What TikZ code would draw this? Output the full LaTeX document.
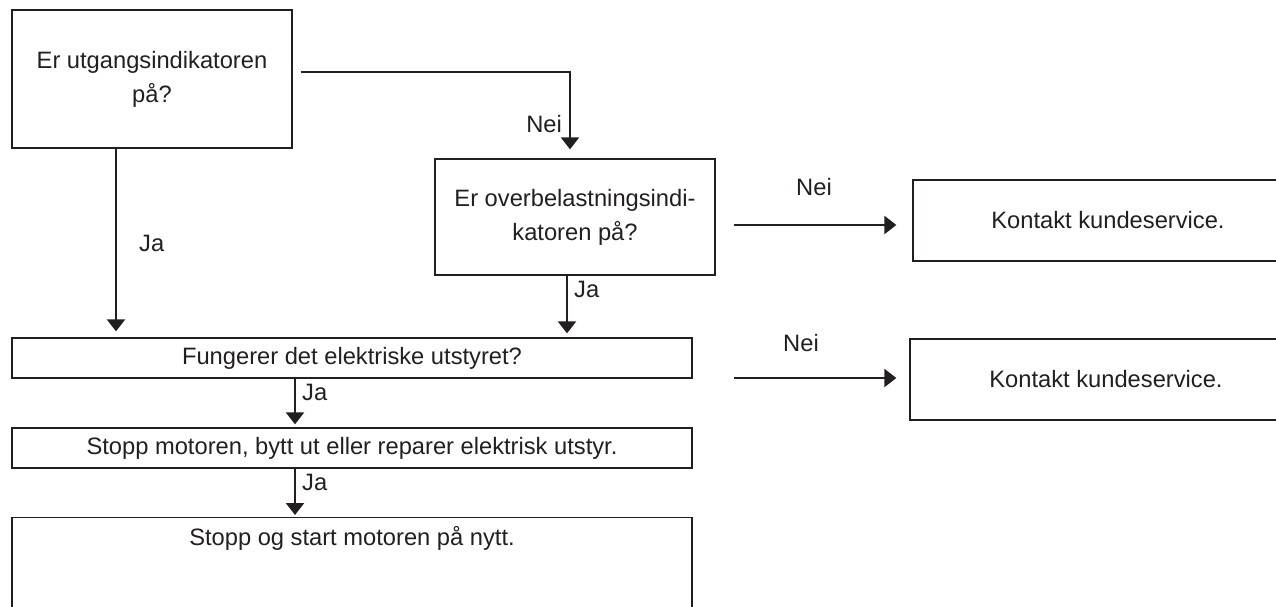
\documentclass[tikz,border=0pt]{standalone}
\usepackage{fontspec}
\setmainfont{Liberation Sans}
\usetikzlibrary{arrows.meta}
\definecolor{ink}{HTML}{231F20}
\begin{document}
\begin{tikzpicture}[x=1pt,y=-1pt,
  box/.style={draw=ink, line width=1.3pt, inner sep=0pt, align=center, text=ink,
    font=\fontsize{23.7}{34}\selectfont},
  arr/.style={draw=ink, line width=2.3pt, -{Triangle[width=18pt,length=12pt]}},
  lbl/.style={text=ink, font=\fontsize{23.7}{34}\selectfont, inner sep=0pt}]
\useasboundingbox (0,0) rectangle (1276,606);
\fill[white] (0,0) rectangle (1276,606);
\clip (0,0) rectangle (1276,606);
% boxes
\node[box, minimum width=280pt, minimum height=138pt] (A) at (152,79) {Er utgangsindikatoren\\på?};
\node[box, minimum width=280pt, minimum height=116pt] (B) at (575,217) {Er overbelastningsindi-\\katoren på?};
\node[box, minimum width=390pt, minimum height=81pt] (C1) at (1108,220.5) {Kontakt kundeservice.};
\node[box, minimum width=392pt, minimum height=81pt] (C2) at (1106,379.5) {Kontakt kundeservice.};
\node[box, minimum width=680pt, minimum height=40pt] (D) at (352,358) {Fungerer det elektriske utstyret?};
\node[box, minimum width=680pt, minimum height=40pt] (E) at (352,448) {Stopp motoren, bytt ut eller reparer elektrisk utstyr.};
\node[box, minimum width=680pt, minimum height=140pt, anchor=north] (F) at (352,517) {};
\node[lbl] (Ft) at (352,538) {Stopp og start motoren på nytt.};
% connectors
\draw[arr, shorten <=8pt, shorten >=9pt] ([yshift=7pt]A.east) -| ([xshift=-5pt]B.north)
  node[lbl, pos=0.8, anchor=east, xshift=-7pt] (n1) {Nei};
\draw[arr, shorten >=6pt] ([xshift=-36pt]A.south) -- ([xshift=-36pt]A.south |- D.north)
  node[lbl, midway, anchor=west, xshift=22pt] (j1) {Ja};
\draw[arr, shorten >=4pt] ([xshift=-8pt]B.south) -- ([xshift=-8pt]B.south |- D.north)
  node[lbl, pos=0, anchor=north west, xshift=6pt, yshift=-4pt] (j2) {Ja};
\draw[arr, shorten <=18pt, shorten >=16pt] ([yshift=-8pt]B.east) -- ([yshift=-8pt]B.east -| C1.west)
  node[lbl, midway, yshift=38pt] (n2) {Nei};
\draw[arr, shorten <=41pt, shorten >=13pt] ([yshift=-20pt]D.east) -- ([yshift=-20pt]D.east -| C2.west)
  node[lbl, midway, yshift=35pt] (n3) {Nei};
\draw[arr, shorten >=3pt] ([xshift=-57pt]D.south) -- ([xshift=-57pt]D.south |- E.north)
  node[lbl, pos=0, anchor=north west, xshift=6pt, yshift=-4pt] (j3) {Ja};
\draw[arr, shorten >=2pt] ([xshift=-57pt]E.south) -- ([xshift=-57pt]E.south |- F.north)
  node[lbl, pos=0, anchor=north west, xshift=6pt, yshift=-4pt] (j4) {Ja};
\end{tikzpicture}
\end{document}
